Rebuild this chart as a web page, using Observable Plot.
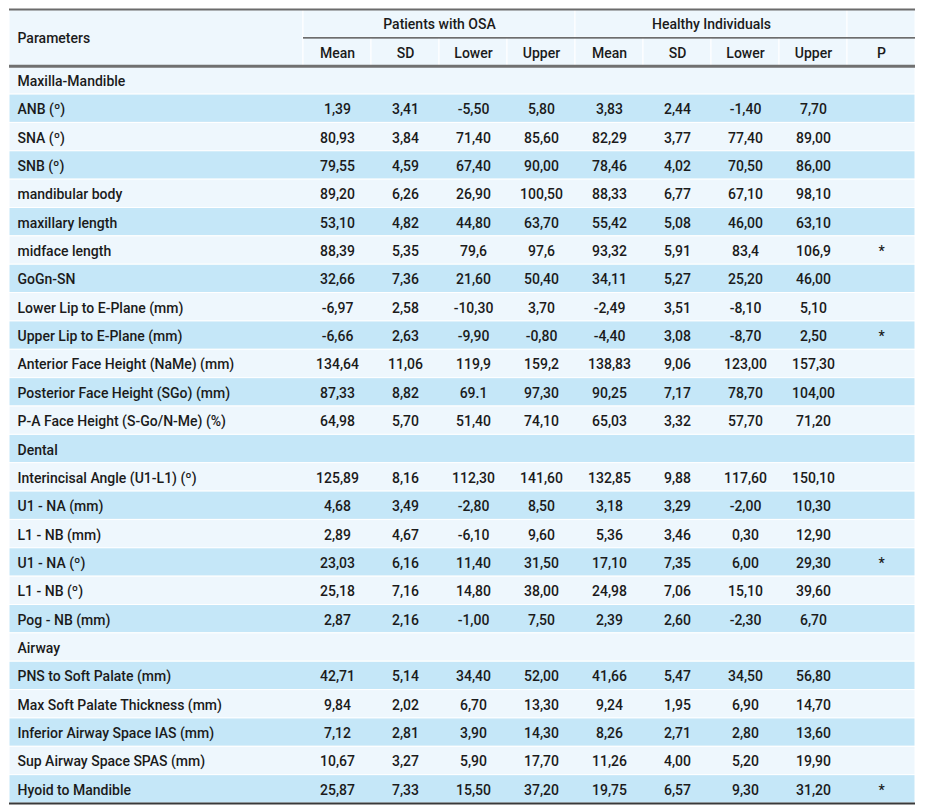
<!DOCTYPE html>
<html>
<head>
<meta charset="utf-8">
<script src="https://cdn.jsdelivr.net/npm/d3@7"></script>
<script src="https://cdn.jsdelivr.net/npm/@observablehq/plot@0.6"></script>
<style>
  html, body { margin: 0; padding: 0; background: #ffffff; }
  #chart svg { display: block; }
</style>
</head>
<body>
<div id="chart"></div>
<script>
// ---------- DATA ----------
const groups = ["Patients with OSA", "Healthy Individuals"];
const statLabels = ["Mean", "SD", "Lower", "Upper"];
const pLabel = "P";
const headerLabel = "Parameters";

const sections = ["Maxilla-Mandible", "Dental", "Airway"];
const sectionStart = [0, 12, 18]; // index of the first parameter of each section

const parameters = [
  "ANB (º)", "SNA (º)", "SNB (º)", "mandibular body", "maxillary length",
  "midface length", "GoGn-SN", "Lower Lip to E-Plane (mm)", "Upper Lip to E-Plane (mm)",
  "Anterior Face Height (NaMe) (mm)", "Posterior Face Height (SGo) (mm)",
  "P-A Face Height (S-Go/N-Me) (%)",
  "Interincisal Angle (U1-L1) (º)", "U1 - NA (mm)", "L1 - NB (mm)", "U1 - NA (º)",
  "L1 - NB (º)", "Pog - NB (mm)",
  "PNS to Soft Palate (mm)", "Max Soft Palate Thickness (mm)",
  "Inferior Airway Space IAS (mm)", "Sup Airway Space SPAS (mm)", "Hyoid to Mandible"
];

const osaMean  = ["1,39","80,93","79,55","89,20","53,10","88,39","32,66","-6,97","-6,66","134,64","87,33","64,98",
                  "125,89","4,68","2,89","23,03","25,18","2,87",
                  "42,71","9,84","7,12","10,67","25,87"];
const osaSD    = ["3,41","3,84","4,59","6,26","4,82","5,35","7,36","2,58","2,63","11,06","8,82","5,70",
                  "8,16","3,49","4,67","6,16","7,16","2,16",
                  "5,14","2,02","2,81","3,27","7,33"];
const osaLower = ["-5,50","71,40","67,40","26,90","44,80","79,6","21,60","-10,30","-9,90","119,9","69.1","51,40",
                  "112,30","-2,80","-6,10","11,40","14,80","-1,00",
                  "34,40","6,70","3,90","5,90","15,50"];
const osaUpper = ["5,80","85,60","90,00","100,50","63,70","97,6","50,40","3,70","-0,80","159,2","97,30","74,10",
                  "141,60","8,50","9,60","31,50","38,00","7,50",
                  "52,00","13,30","14,30","17,70","37,20"];
const hMean    = ["3,83","82,29","78,46","88,33","55,42","93,32","34,11","-2,49","-4,40","138,83","90,25","65,03",
                  "132,85","3,18","5,36","17,10","24,98","2,39",
                  "41,66","9,24","8,26","11,26","19,75"];
const hSD      = ["2,44","3,77","4,02","6,77","5,08","5,91","5,27","3,51","3,08","9,06","7,17","3,32",
                  "9,88","3,29","3,46","7,35","7,06","2,60",
                  "5,47","1,95","2,71","4,00","6,57"];
const hLower   = ["-1,40","77,40","70,50","67,10","46,00","83,4","25,20","-8,10","-8,70","123,00","78,70","57,70",
                  "117,60","-2,00","0,30","6,00","15,10","-2,30",
                  "34,50","6,90","2,80","5,20","9,30"];
const hUpper   = ["7,70","89,00","86,00","98,10","63,10","106,9","46,00","5,10","2,50","157,30","104,00","71,20",
                  "150,10","10,30","12,90","29,30","39,60","6,70",
                  "56,80","14,70","13,60","19,90","31,20"];
const pValue   = ["","","","","","*","","","*","","","",
                  "","","","*","","",
                  "","","","","*"];

// ---------- BUILD TABLE ROWS ----------
const columns = [osaMean, osaSD, osaLower, osaUpper, hMean, hSD, hLower, hUpper, pValue];
const HEADER_ROWS = 2;
const bodyRows = [];
parameters.forEach((name, i) => {
  const s = sectionStart.indexOf(i);
  if (s >= 0) bodyRows.push({kind: "section", label: sections[s]});
  bodyRows.push({kind: "param", label: name, values: columns.map(c => c[i])});
});
bodyRows.forEach((r, j) => { r.row = HEADER_ROWS + j; r.alt = j % 2 === 1; });
const NROWS = HEADER_ROWS + bodyRows.length;
const NCOLS = columns.length;
const LABEL_W = 294 / 68; // width of label column, in value-column units

const valueCells = [];
bodyRows.filter(r => r.kind === "param").forEach(r => {
  r.values.forEach((v, c) => valueCells.push({col: c, row: r.row, text: v}));
});

// header cells (background)
const headerCells = [
  {x1: -LABEL_W, x2: 0, y1: 0, y2: 2},
  {x1: 0, x2: 4, y1: 0, y2: 1},
  {x1: 4, x2: 8, y1: 0, y2: 1},
  {x1: 8, x2: 9, y1: 0, y2: 1},
  ...d3.range(NCOLS).map(c => ({x1: c, x2: c + 1, y1: 1, y2: 2}))
];
const subHeaders = [...statLabels, ...statLabels, pLabel].map((t, c) => ({col: c, text: t}));

const BLUE = "#c5e7f8";
const LIGHT = "#eef7fd";
const INK = "#1b1b1b";
const FONT = "Roboto, 'Noto Sans', sans-serif";

const chart = Plot.plot({
  width: 925,
  height: 811,
  marginLeft: 9,
  marginRight: 10,
  marginTop: 9,
  marginBottom: 8,
  x: {domain: [-LABEL_W, NCOLS], axis: null},
  y: {domain: [0, NROWS], reverse: true, axis: null},
  style: {fontFamily: FONT, fontSize: "14px", background: "#ffffff"},
  marks: [
    // header backgrounds
    Plot.rect(headerCells, {x1: "x1", x2: "x2", y1: "y1", y2: "y2", fill: LIGHT, stroke: "white", strokeWidth: 1}),
    // body row backgrounds
    Plot.rect(bodyRows, {x1: -LABEL_W, x2: NCOLS, y1: d => d.row, y2: d => d.row + 1,
      fill: d => d.alt ? BLUE : LIGHT, stroke: "white", strokeWidth: 1}),
    // header text
    Plot.text([headerLabel], {x: -LABEL_W, y: 1, text: d => d, textAnchor: "start", dx: 8, dy: 1,
      fill: INK, fontWeight: 500}),
    Plot.text(groups, {x: (d, i) => i * 4 + 2, y: 0.5, text: d => d, dy: 1, fill: INK, fontWeight: 500}),
    Plot.text(subHeaders, {x: d => d.col + 0.5, y: 1.5, text: "text", dy: 1, fill: INK, fontWeight: 500}),
    // row labels
    Plot.text(bodyRows, {x: -LABEL_W, y: d => d.row + 0.5, text: "label", textAnchor: "start", dx: 8, dy: 1,
      fill: INK, fontWeight: 500}),
    // values
    Plot.text(valueCells, {x: d => d.col + 0.5, y: d => d.row + 0.5, text: "text", dy: 1, fill: INK, fontWeight: 500}),
    // rules
    Plot.ruleY([0], {x1: -LABEL_W, x2: NCOLS, stroke: "#6b6b6b", strokeWidth: 2}),
    Plot.ruleY([1], {x1: 0, x2: NCOLS, stroke: "#3c3c3c", strokeWidth: 1.2}),
    Plot.ruleY([2], {x1: -LABEL_W, x2: NCOLS, stroke: "#707070", strokeWidth: 3}),
    Plot.ruleY([NROWS], {x1: -LABEL_W, x2: NCOLS, stroke: "#3a3a3a", strokeWidth: 2})
  ]
});
document.getElementById("chart").appendChild(chart);
</script>
</body>
</html>
